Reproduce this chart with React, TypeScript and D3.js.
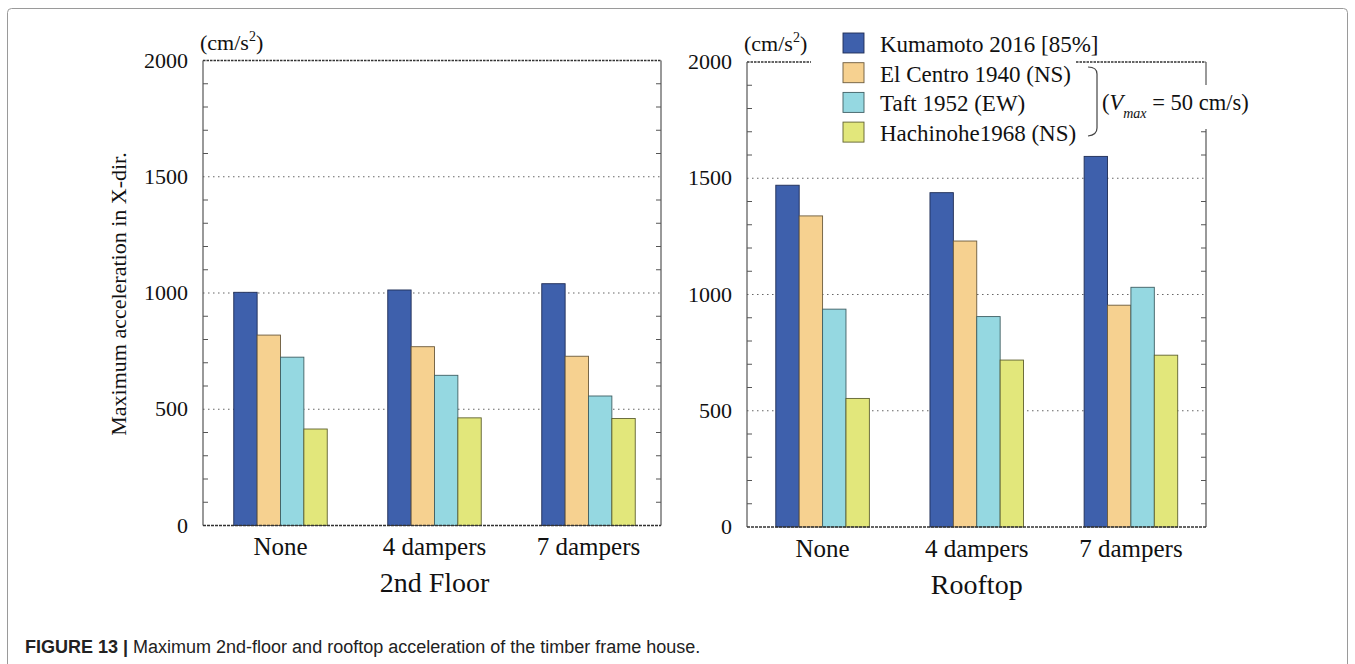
import React from "react";
import * as d3 from "d3";

const categories = ["None", "4 dampers", "7 dampers"];
const seriesNames = ["Kumamoto 2016 [85%]", "El Centro 1940 (NS)", "Taft 1952 (EW)", "Hachinohe1968 (NS)"];
const seriesColors = ["#3e60ac", "#f6d190", "#95d8e1", "#e2e77b"];
const seriesStroke = ["#1f2d55", "#6b5a3c", "#3f5f63", "#5f6130"];

// 2nd floor values (cm/s^2), one array per series across categories
const floorKumamoto = [1003, 1013, 1040];
const floorElCentro = [819, 769, 728];
const floorTaft = [724, 646, 557];
const floorHachinohe = [415, 463, 460];

// rooftop values
const roofKumamoto = [1470, 1438, 1594];
const roofElCentro = [1338, 1230, 954];
const roofTaft = [937, 905, 1031];
const roofHachinohe = [553, 718, 739];

const majorTicks = [0, 500, 1000, 1500, 2000];
const minorStep = 100;

const SERIF = "'Liberation Serif', 'DejaVu Serif', serif";
const SANS = "'Liberation Sans', Arial, sans-serif";

type PanelProps = {
  x0: number;
  x1: number;
  yTop: number;
  yBottom: number;
  band0: number;
  band1: number;
  series: number[][];
  title: string;
  titleY: number;
  catY: number;
  topGap?: [number, number];
  rightGap?: [number, number];
};

function Panel(p: PanelProps) {
  const y = d3.scaleLinear().domain([0, 2000]).range([p.yBottom, p.yTop]);
  const x = d3
    .scaleBand<string>()
    .domain(categories)
    .range([p.band0, p.band1])
    .paddingInner(0.393)
    .paddingOuter(0.1965);
  const xs = d3
    .scaleBand<number>()
    .domain(d3.range(seriesNames.length))
    .range([0, x.bandwidth()]);
  const minor = d3.range(0, 2001, minorStep).filter((v) => v % 500 !== 0);
  const axisColor = "#555";
  const topSegs: [number, number][] = p.topGap
    ? [
        [p.x0, p.topGap[0]],
        [p.topGap[1], p.x1],
      ]
    : [[p.x0, p.x1]];
  const rightSegs: [number, number][] = p.rightGap
    ? [
        [p.yTop, p.rightGap[0]],
        [p.rightGap[1], p.yBottom],
      ]
    : [[p.yTop, p.yBottom]];
  return (
    <g>
      {[500, 1000, 1500].map((v) => (
        <line
          key={"g" + v}
          x1={p.x0}
          x2={p.x1}
          y1={y(v)}
          y2={y(v)}
          stroke="#666"
          strokeWidth={1.1}
          strokeDasharray="1.5 3.5"
        />
      ))}
      {topSegs.map((s, i) => (
        <line
          key={"t" + i}
          x1={s[0]}
          x2={s[1]}
          y1={y(2000)}
          y2={y(2000)}
          stroke="#333"
          strokeWidth={1.6}
          strokeDasharray="2.5 1"
        />
      ))}
      <line x1={p.x0} x2={p.x0} y1={p.yTop} y2={p.yBottom} stroke={axisColor} strokeWidth={1.2} />
      {rightSegs.map((s, i) => (
        <line key={"r" + i} x1={p.x1} x2={p.x1} y1={s[0]} y2={s[1]} stroke={axisColor} strokeWidth={1.2} />
      ))}
      {minor.map((v) => (
        <g key={"m" + v}>
          <line x1={p.x0} x2={p.x0 + 5} y1={y(v)} y2={y(v)} stroke={axisColor} strokeWidth={1} />
          {(!p.rightGap || y(v) < p.rightGap[0] || y(v) > p.rightGap[1]) && (
            <line x1={p.x1} x2={p.x1 - 5} y1={y(v)} y2={y(v)} stroke={axisColor} strokeWidth={1} />
          )}
        </g>
      ))}
      {majorTicks.map((v) => (
        <text
          key={"l" + v}
          x={p.x0 - 15}
          y={y(v) + 7}
          textAnchor="end"
          fontFamily={SERIF}
          fontSize={22}
          fill="#111"
        >
          {v}
        </text>
      ))}
      <text x={p.x0 - 3} y={p.yTop - 11} fontFamily={SERIF} fontSize={22} fill="#111">
        (cm/s
        <tspan fontSize={14} dy={-9}>
          2
        </tspan>
        <tspan dy={9}>)</tspan>
      </text>
      {categories.map((c, ci) => (
        <g key={c} transform={`translate(${x(c)},0)`}>
          {p.series.map((vals, si) => (
            <rect
              key={si}
              x={xs(si)}
              y={y(vals[ci])}
              width={xs.bandwidth()}
              height={y(0) - y(vals[ci])}
              fill={seriesColors[si]}
              stroke={seriesStroke[si]}
              strokeWidth={0.9}
            />
          ))}
        </g>
      ))}
      <line x1={p.x0} x2={p.x1} y1={y(0)} y2={y(0)} stroke="#333" strokeWidth={1.6} strokeDasharray="3 1" />
      {categories.map((c) => (
        <text
          key={"c" + c}
          x={(x(c) as number) + x.bandwidth() / 2}
          y={p.catY}
          textAnchor="middle"
          fontFamily={SERIF}
          fontSize={25}
          fill="#111"
        >
          {c}
        </text>
      ))}
      <text
        x={(p.band0 + p.band1) / 2}
        y={p.titleY}
        textAnchor="middle"
        fontFamily={SERIF}
        fontSize={28}
        fill="#111"
      >
        {p.title}
      </text>
    </g>
  );
}

export default function App() {
  const floorSeries = [floorKumamoto, floorElCentro, floorTaft, floorHachinohe];
  const roofSeries = [roofKumamoto, roofElCentro, roofTaft, roofHachinohe];
  const legendX = 843;
  const legendY0 = 33;
  const legendStep = 29.7;
  return (
    <svg
      width={1355}
      height={664}
      style={{ position: "absolute", left: 0, top: 0, background: "#fff" }}
    >
      <rect x={7.5} y={8.5} width={1340} height={680} rx={4} fill="none" stroke="#9a9a9a" strokeWidth={1} />
      <Panel
        x0={203}
        x1={661}
        yTop={60.5}
        yBottom={525.5}
        band0={203.5}
        band1={665.5}
        series={floorSeries}
        title="2nd Floor"
        titleY={592}
        catY={555}
      />
      <Panel
        x0={747}
        x1={1206}
        yTop={62}
        yBottom={527}
        band0={745.5}
        band1={1208}
        series={roofSeries}
        title="Rooftop"
        titleY={594}
        catY={557}
        topGap={[811, 1076]}
        rightGap={[85, 129]}
      />
      <text
        transform={`translate(126,294) rotate(-90)`}
        textAnchor="middle"
        fontFamily={SERIF}
        fontSize={22}
        fill="#111"
      >
        Maximum acceleration in X-dir.
      </text>
      {seriesNames.map((n, i) => (
        <g key={n} transform={`translate(${legendX},${legendY0 + i * legendStep})`}>
          <rect x={0} y={0} width={21} height={20} fill={seriesColors[i]} stroke={seriesStroke[i]} strokeWidth={0.9} />
          <text x={37} y={19} fontFamily={SERIF} fontSize={23} fill="#111">
            {n}
          </text>
        </g>
      ))}
      <path
        d="M1088,67 Q1097,67 1097,74 L1097,128 Q1097,135 1088,136"
        fill="none"
        stroke="#444"
        strokeWidth={1.2}
      />
      <text x={1102} y={110} fontFamily={SERIF} fontSize={22.5} fill="#111">
        (<tspan fontStyle="italic">V</tspan>
        <tspan fontStyle="italic" fontSize={14} dy={8}>
          max
        </tspan>
        <tspan dy={-8}> = 50 cm/s)</tspan>
      </text>
      <text x={25} y={653} fontFamily={SANS} fontSize={18} fill="#222">
        <tspan fontWeight="bold">FIGURE 13 |</tspan> Maximum 2nd-floor and rooftop acceleration of the timber frame house.
      </text>
    </svg>
  );
}
